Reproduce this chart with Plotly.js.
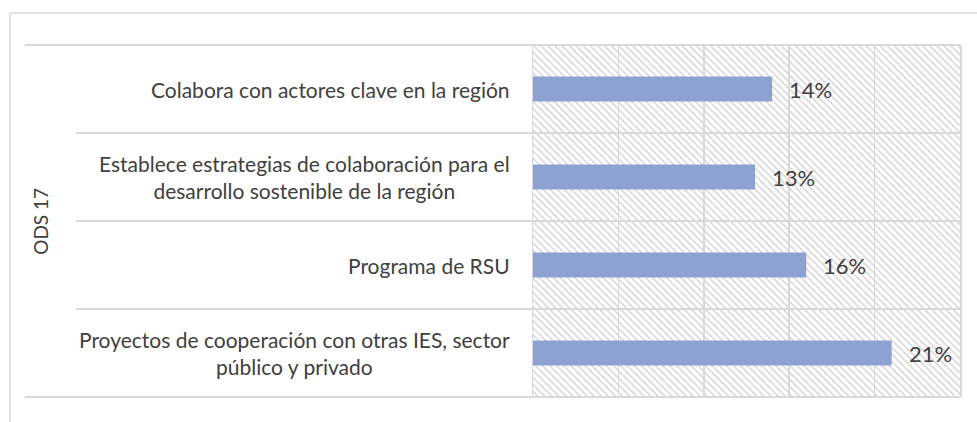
<!DOCTYPE html>
<html>
<head>
<meta charset="utf-8">
<script src="https://cdn.plot.ly/plotly-3.0.1.min.js"></script>
<style>html,body{margin:0;padding:0;background:#fff;}</style>
</head>
<body>
<div id="chart" style="width:977px;height:422px;"></div>
<script>
// ---- data ----
const categories = [
  "Colabora con actores clave en la región",
  "Establece estrategias de colaboración para el<br>desarrollo sostenible de la región",
  "Programa de RSU",
  "Proyectos de cooperación con otras IES, sector<br>público y privado"
];
const values = [14, 13, 16, 21];
const groupLabel = "ODS 17";
const xMax = 25;
const xStep = 5;

// ---- styling ----
const FONT = "Lato, 'Open Sans', sans-serif";
const TEXT = "#404040";
const GRID = "#d9d9d9";

const bgTrace = {
  type: "bar", orientation: "h",
  y: categories, x: categories.map(() => xMax),
  width: 1,
  marker: {
    color: "rgba(0,0,0,0)",
    line: {width: 0},
    pattern: {shape: "\\", size: 5, solidity: 0.3, fgcolor: "#d6d6d6", bgcolor: "rgba(0,0,0,0)", fillmode: "replace"}
  },
  hoverinfo: "skip", showlegend: false
};

const dataTrace = {
  type: "bar", orientation: "h",
  y: categories, x: values,
  width: 0.285,
  marker: {color: "#8EA1D3", line: {width: 0}},
  showlegend: false
};

const annotations = [];
categories.forEach((c, i) => {
  annotations.push({
    xref: "paper", yref: "y", x: -0.05, y: c,
    text: c, showarrow: false, xanchor: "right", yanchor: "middle", align: "center",
    font: {family: FONT, size: 21, color: TEXT}
  });
  annotations.push({
    xref: "x", yref: "y", x: values[i], y: c,
    text: values[i] + "%", showarrow: false, xanchor: "left", yanchor: "middle",
    xshift: 15,
    font: {family: FONT, size: 22, color: TEXT}
  });
});
annotations.push({
  xref: "paper", yref: "paper", x: -1.155, y: 0.5,
  text: groupLabel, showarrow: false, textangle: -90,
  xanchor: "center", yanchor: "middle",
  font: {family: FONT, size: 19, color: TEXT}
});

const shapes = [];
const n = categories.length;
for (let k = 0; k <= n; k++) {
  const outer = (k === 0 || k === n);
  shapes.push({
    type: "line", xref: "paper", yref: "paper",
    x0: outer ? -1.19 : -1.07, x1: 1, y0: k / n, y1: k / n,
    line: {color: GRID, width: 2}
  });
}
// outer frame (top and left)
shapes.push({type: "line", xref: "paper", yref: "paper", x0: -1.225, x1: 1.05, y0: 1.091, y1: 1.091, line: {color: GRID, width: 1.5}});
shapes.push({type: "line", xref: "paper", yref: "paper", x0: -1.225, x1: -1.225, y0: 1.091, y1: -0.08, line: {color: GRID, width: 1.5}});

const layout = {
  width: 977, height: 422,
  margin: {l: 533, r: 17, t: 45, b: 25},
  paper_bgcolor: "#ffffff", plot_bgcolor: "#ffffff",
  barmode: "overlay",
  xaxis: {
    range: [0, xMax], dtick: xStep, tick0: 0,
    showgrid: true, gridcolor: GRID, gridwidth: 1.5,
    zeroline: false, showticklabels: false, ticks: "", showline: false,
    fixedrange: true
  },
  yaxis: {
    type: "category", autorange: "reversed",
    showticklabels: false, ticks: "", showgrid: false, zeroline: false,
    showline: true, mirror: true, linecolor: GRID, linewidth: 1.5,
    fixedrange: true
  },
  annotations: annotations,
  shapes: shapes,
  font: {family: FONT, color: TEXT}
};

Plotly.newPlot("chart", [bgTrace, dataTrace], layout, {displayModeBar: false, staticPlot: true});
</script>
</body>
</html>
